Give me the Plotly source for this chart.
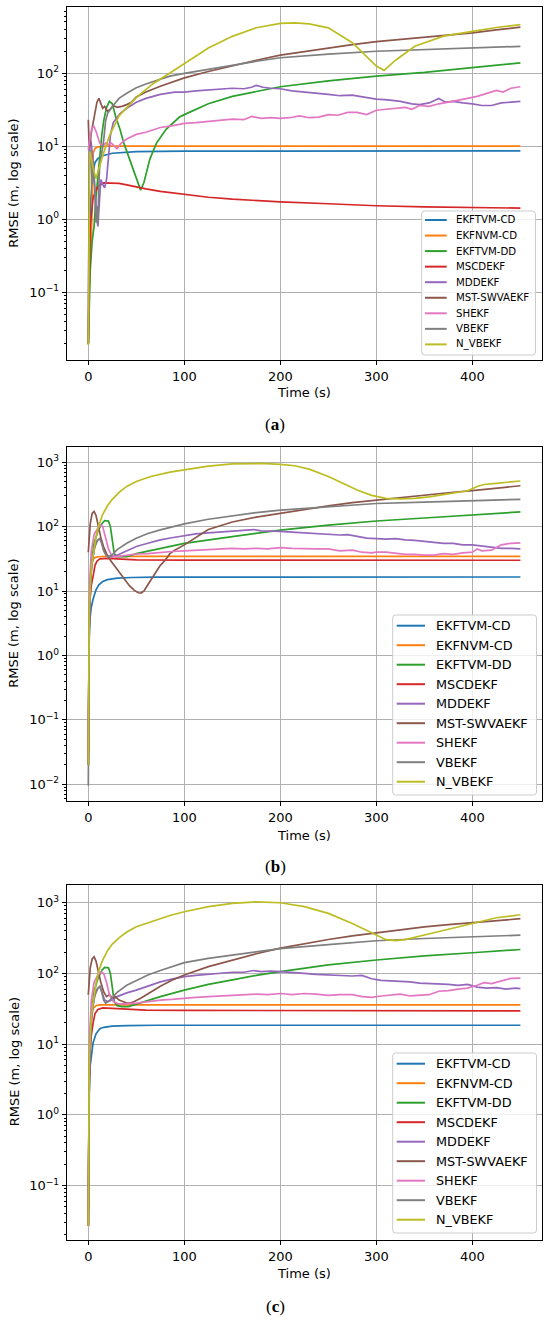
import math
import plotly.graph_objects as go

W, H = 550, 1323
NAMES = ["EKFTVM-CD", "EKFNVM-CD", "EKFTVM-DD", "MSCDEKF", "MDDEKF",
         "MST-SWVAEKF", "SHEKF", "VBEKF", "N_VBEKF"]
COLORS = ["#1f77b4", "#ff7f0e", "#2ca02c", "#d62728", "#9467bd",
          "#8c564b", "#e377c2", "#7f7f7f", "#bcbd22"]
X_TICKS = [0, 100, 200, 300, 400]

# ---------------- Panel (a) ----------------
a_t_ekftvm_cd = [0, 2, 5, 7, 10, 15, 25, 50, 100, 200, 450]
a_v_ekftvm_cd = [0.02, 1.5, 4.5, 6.0, 6.8, 7.4, 8.0, 8.4, 8.55, 8.6, 8.6]
a_t_ekfnvm_cd = [0, 1.5, 3, 4, 5, 7, 10, 20, 450]
a_v_ekfnvm_cd = [0.02, 0.35, 0.4, 2, 8, 9.3, 9.8, 10.0, 10.0]
a_t_ekftvm_dd = [0, 2, 4, 6, 8, 10, 12, 14, 16, 19, 22, 25, 29, 33, 37, 43, 50, 54.5, 58, 64, 71, 81, 95, 100,
                 125, 150, 175, 200, 250, 300, 350, 400, 450]
a_v_ekftvm_dd = [0.02, 0.2, 0.5, 0.8, 2, 4, 8, 14, 22, 34, 41, 38, 24, 17, 11, 6.6, 3.9, 2.5, 3.2, 6.6, 11, 17, 25, 27,
                 38, 48, 56, 65, 78, 91, 102, 118, 138]
a_t_mscdekf = [0, 2, 5, 10, 16, 25, 32, 40, 50, 60, 75, 100, 125, 150, 175, 200, 250, 300, 350, 400, 450]
a_v_mscdekf = [0.02, 0.8, 2.0, 2.8, 3.15, 3.15, 3.1, 2.95, 2.75, 2.6, 2.4, 2.18, 2.0, 1.88, 1.8, 1.73, 1.63, 1.53,
               1.48, 1.44, 1.42]
a_t_mddekf = [0, 1, 2, 3, 5, 7, 9, 10, 11, 13, 15, 17, 19, 21, 23, 26, 30, 33, 40, 50, 60, 75, 90, 100, 112, 125,
              137, 150, 162, 170, 175, 182, 190, 200, 212, 225, 237, 250, 262, 275, 287, 300, 312, 325, 337, 345,
              355, 365, 372, 380, 390, 400, 410, 420, 430, 440, 450]
a_v_mddekf = [0.02, 8, 13, 11, 6, 2, 1.0, 0.8, 1.2, 3.5, 3.0, 2.7, 3.5, 8, 14, 21, 25, 28, 33, 40, 45, 51, 55, 55, 57,
              59, 60, 62, 61, 64, 68, 64, 62, 61, 57, 55, 54, 51, 49, 50, 47, 44, 43, 41, 38, 37, 39, 45, 40, 41,
              39, 38, 36, 36, 39, 40, 41]
a_t_mst = [0, 0.5, 1, 3, 6, 9, 11, 13, 15, 17, 20, 23, 26, 30, 35, 40, 45, 50, 60, 75, 90, 100, 125, 150, 175, 200,
           225, 250, 275, 300, 325, 350, 375, 400, 425, 450]
a_v_mst = [23, 12, 9, 15, 25, 40, 45, 38, 33, 35, 30, 32, 36, 34, 35, 37, 40, 47, 55, 66, 78, 86, 105, 127, 150, 176,
           198, 220, 245, 270, 290, 305, 330, 355, 390, 425]
a_t_shekf = [0, 2, 4, 6, 8, 10, 12, 15, 18, 21, 24, 27, 30, 33, 36, 40, 45, 50, 60, 75, 87, 100, 112, 125, 137, 150,
             162, 170, 180, 190, 200, 210, 220, 230, 240, 250, 260, 270, 280, 290, 300, 310, 320, 330, 337, 345,
             355, 365, 375, 385, 395, 405, 415, 425, 432, 440, 450]
a_v_shekf = [9, 14, 18, 18.5, 16, 13, 11, 10, 11, 10.5, 11, 10, 9.2, 10.5, 11.5, 12.5, 13.5, 14.5, 15.5, 18, 19, 20.5,
             21, 22, 22.5, 23.5, 23, 25.5, 24, 24.5, 24, 24.5, 26, 24.5, 25, 27, 26.5, 29, 29, 27, 31, 32, 33, 34,
             32, 36, 35, 38, 40, 42, 45, 48, 53, 58, 55, 62, 65]
a_t_vbekf = [0, 1, 2, 3, 4, 5, 6, 7, 8, 9, 10, 11, 12, 14, 16, 18, 20, 25, 32, 40, 50, 60, 75, 85, 100, 125, 150,
             175, 200, 250, 300, 350, 400, 450]
a_v_vbekf = [0.02, 4, 9, 7, 3, 6, 4, 1.5, 0.9, 1.5, 0.9, 3, 6, 8, 12, 22, 28, 35, 45, 53, 63, 71, 83, 91, 99, 113,
             127, 145, 162, 182, 199, 210, 222, 232]
a_t_nvbekf = [0, 0.5, 1.5, 3, 5, 8, 10, 15, 22, 32, 50, 67, 85, 100, 125, 150, 175, 200, 215, 230, 250, 275, 290,
              300, 308, 320, 340, 370, 400, 425, 450]
a_v_nvbekf = [0.019, 1, 8.5, 7, 5, 3.6, 4.5, 7.4, 13.8, 26, 46, 71, 100, 135, 220, 318, 417, 478, 486, 470, 416,
              260, 165, 125, 109, 150, 233, 320, 373, 420, 460]

# ---------------- Panel (b) ----------------
b_t_ekftvm_cd = [0, 0.5, 1, 2, 3, 5, 8, 11, 15, 20, 30, 45, 70, 450]
b_v_ekftvm_cd = [0.02, 0.5, 2, 4, 5.5, 7.5, 10.4, 12.5, 14, 15, 15.8, 16.2, 16.4, 16.5]
b_t_ekfnvm_cd = [0, 0.5, 1, 2, 3, 5, 7, 10, 20, 450]
b_v_ekfnvm_cd = [0.02, 1, 5, 15, 25, 31, 33, 34, 34.5, 34.5]
b_t_ekftvm_dd = [0, 1, 3, 6, 10, 14, 17, 21, 23, 25, 27, 30, 40, 50, 75, 100, 150, 200, 250, 300, 350, 400, 450]
b_v_ekftvm_dd = [0.02, 5, 25, 55, 85, 110, 124, 122, 100, 55, 38, 34, 34, 38, 46, 55, 70, 88, 105, 122, 136, 152, 169]
b_t_mscdekf = [0, 0.5, 1, 2, 3, 5, 7, 9, 12, 20, 30, 50, 100, 450]
b_v_mscdekf = [0.02, 0.8, 3, 8, 12, 17, 25, 29, 31.5, 32, 31.5, 30.5, 30.2, 30.0]
b_t_mddekf = [0, 1, 3, 6, 9, 12, 14, 17, 20, 25, 30, 40, 50, 62, 75, 87, 100, 112, 125, 137, 150, 162, 172, 180,
              190, 200, 212, 225, 237, 250, 262, 270, 280, 290, 300, 310, 320, 330, 340, 350, 360, 370, 380, 390,
              400, 410, 420, 430, 440, 450]
b_v_mddekf = [0.02, 4, 20, 45, 60, 65, 55, 40, 35, 34, 36, 42, 49, 55, 62, 67, 73, 77, 80, 82, 84, 86, 90, 86, 84,
              84, 82, 80, 79, 76, 74, 75, 70, 66, 65, 64, 65, 62, 61, 59, 58, 55, 55, 52, 52, 50, 48, 46, 46, 45]
b_t_mst = [0, 1, 2, 4, 6, 8, 10, 13, 16, 19, 23, 28, 33, 38, 43, 48, 52, 55, 58, 62, 66, 70, 75, 80, 85, 90, 100,
           125, 150, 175, 200, 225, 250, 275, 300, 325, 350, 375, 400, 425, 450]
b_v_mst = [40, 70, 110, 160, 172, 150, 105, 68, 48, 38, 30, 24, 19, 15, 12, 10.2, 9.4, 9.3, 10, 12.5, 15.5, 19, 25,
           30, 38, 43, 52, 90, 118, 140, 160, 185, 210, 235, 258, 285, 310, 335, 362, 395, 430]
b_t_shekf = [0, 1, 3, 6, 10, 13, 15, 18, 21, 24, 28, 35, 50, 62, 75, 87, 100, 112, 125, 137, 150, 162, 175, 187,
             200, 212, 225, 237, 250, 262, 275, 285, 295, 300, 310, 320, 330, 340, 350, 360, 370, 380, 390, 400,
             405, 410, 420, 430, 440, 450]
b_v_shekf = [0.02, 10, 40, 75, 95, 105, 100, 70, 45, 36, 34, 35, 37.5, 38, 40, 41, 42, 43, 44, 44, 46, 45, 46, 45,
             47, 46, 45, 45, 45, 42, 43, 40, 39, 40, 40, 38, 37, 37, 36, 36, 38, 37, 39, 40, 45, 42, 43, 52, 55, 56]
b_t_vbekf = [0, 0.5, 1, 2, 4, 7, 10, 12, 14, 16, 19, 22, 26, 30, 40, 50, 62, 75, 100, 125, 150, 175, 200, 250, 300,
             350, 400, 450]
b_v_vbekf = [0.0095, 0.5, 3, 12, 30, 50, 62, 65, 55, 42, 35, 34, 38, 44, 55, 66, 78, 89, 110, 130, 147, 165, 180,
             205, 228, 240, 252, 265]
b_t_nvbekf = [0, 0.5, 1, 2, 3.5, 5, 8, 11, 15, 20, 25, 32, 40, 50, 65, 85, 100, 125, 150, 165, 180, 200, 215, 230,
              250, 265, 280, 295, 310, 325, 340, 355, 375, 395, 405, 412, 425, 450]
b_v_nvbekf = [0.02, 1, 5, 12, 25, 35, 69, 105, 155, 210, 265, 340, 420, 500, 600, 700, 760, 870, 940, 960, 955,
              925, 880, 780, 600, 470, 370, 305, 275, 270, 275, 290, 320, 360, 420, 450, 470, 510]

# ---------------- Panel (c) ----------------
c_t_ekftvm_cd = [0, 0.5, 1, 2, 3, 5, 8, 12, 16, 25, 40, 70, 450]
c_v_ekftvm_cd = [0.027, 0.5, 2, 5, 7, 10.5, 14, 16.5, 17.3, 18, 18.3, 18.5, 18.5]
c_t_ekfnvm_cd = [0, 0.5, 1, 2, 3, 5, 8, 12, 450]
c_v_ekfnvm_cd = [0.027, 1, 5, 15, 26, 32, 35, 36, 36]
c_t_ekftvm_dd = [0, 1, 3, 6, 10, 14, 17, 21, 23, 25, 27, 30, 35, 42, 50, 75, 100, 125, 150, 175, 200, 250, 300, 350,
                 400, 450]
c_v_ekftvm_dd = [0.027, 5, 25, 55, 85, 110, 122, 120, 100, 60, 40, 35, 34, 34, 37, 47, 58, 70, 81, 94, 106, 132,
                 155, 177, 196, 218]
c_t_mscdekf = [0, 0.5, 1, 2, 3, 5, 7, 10, 15, 25, 40, 60, 100, 450]
c_v_mscdekf = [0.027, 0.8, 3, 8, 13, 20, 27, 31, 32.5, 32, 31, 30.3, 30, 29.6]
c_t_mddekf = [0, 1, 3, 6, 9, 12, 14, 17, 20, 25, 30, 40, 50, 62, 75, 87, 100, 112, 125, 137, 150, 162, 172, 180,
              190, 200, 212, 225, 237, 250, 262, 275, 285, 295, 305, 315, 325, 335, 345, 355, 365, 375, 385, 395,
              405, 415, 425, 435, 445, 450]
c_v_mddekf = [0.027, 4, 20, 45, 60, 65, 55, 42, 40, 42, 47, 53, 58, 66, 76, 83, 90, 94, 98, 101, 104, 104, 110, 106,
              108, 106, 102, 100, 97, 95, 93, 92, 94, 84, 80, 79, 78, 76, 73, 72, 72, 70, 68, 70, 64, 62, 63, 60,
              62, 61]
c_t_mst = [0, 1, 2, 4, 6, 8, 10, 13, 16, 19, 22, 25, 28, 32, 36, 40, 44, 48, 55, 65, 75, 87, 100, 125, 150, 175,
           200, 225, 250, 275, 300, 325, 350, 375, 400, 425, 450]
c_v_mst = [50, 80, 120, 160, 172, 150, 110, 75, 55, 47, 50, 45, 47, 42, 40, 38, 38, 40, 45, 55, 66, 80, 95, 125, 155,
           190, 228, 265, 302, 340, 376, 415, 455, 490, 525, 560, 594]
c_t_shekf = [0, 1, 3, 6, 10, 13, 16, 19, 22, 26, 32, 40, 50, 62, 75, 87, 100, 112, 125, 137, 150, 162, 175, 187,
             200, 212, 225, 237, 250, 262, 275, 285, 295, 305, 315, 325, 335, 345, 355, 365, 375, 385, 395, 405,
             412, 420, 430, 440, 450]
c_v_shekf = [0.027, 10, 40, 75, 95, 105, 100, 75, 50, 40, 37, 37, 38, 40, 42, 43, 45, 46, 47, 48, 49, 49, 51, 50,
             52, 50, 52, 51, 49, 50, 50, 47, 46, 48, 50, 51, 48, 49, 50, 56, 57, 60, 62, 68, 74, 72, 78, 85, 86]
c_t_vbekf = [0, 0.5, 1, 2, 4, 7, 10, 12, 14, 16, 18, 21, 25, 30, 40, 50, 62, 75, 100, 125, 150, 175, 200, 250, 300,
             350, 400, 450]
c_v_vbekf = [0.027, 0.5, 3, 12, 30, 50, 62, 66, 55, 42, 38, 40, 46, 54, 68, 80, 95, 110, 142, 163, 182, 205, 225,
             255, 290, 312, 330, 348]
c_t_nvbekf = [0, 0.5, 1, 2, 3.5, 5, 8, 11, 15, 20, 25, 32, 40, 50, 70, 85, 100, 125, 150, 175, 200, 225, 250, 275,
              300, 310, 320, 330, 350, 375, 400, 425, 450]
c_v_nvbekf = [0.027, 1.2, 6, 13, 27, 38, 72, 110, 154, 210, 260, 318, 385, 458, 570, 660, 746, 880, 980, 1030, 1000,
              880, 706, 510, 350, 300, 292, 300, 350, 420, 510, 613, 676]

PANELS = [
    [(a_t_ekftvm_cd, a_v_ekftvm_cd), (a_t_ekfnvm_cd, a_v_ekfnvm_cd), (a_t_ekftvm_dd, a_v_ekftvm_dd),
     (a_t_mscdekf, a_v_mscdekf), (a_t_mddekf, a_v_mddekf), (a_t_mst, a_v_mst), (a_t_shekf, a_v_shekf),
     (a_t_vbekf, a_v_vbekf), (a_t_nvbekf, a_v_nvbekf)],
    [(b_t_ekftvm_cd, b_v_ekftvm_cd), (b_t_ekfnvm_cd, b_v_ekfnvm_cd), (b_t_ekftvm_dd, b_v_ekftvm_dd),
     (b_t_mscdekf, b_v_mscdekf), (b_t_mddekf, b_v_mddekf), (b_t_mst, b_v_mst), (b_t_shekf, b_v_shekf),
     (b_t_vbekf, b_v_vbekf), (b_t_nvbekf, b_v_nvbekf)],
    [(c_t_ekftvm_cd, c_v_ekftvm_cd), (c_t_ekfnvm_cd, c_v_ekfnvm_cd), (c_t_ekftvm_dd, c_v_ekftvm_dd),
     (c_t_mscdekf, c_v_mscdekf), (c_t_mddekf, c_v_mddekf), (c_t_mst, c_v_mst), (c_t_shekf, c_v_shekf),
     (c_t_vbekf, c_v_vbekf), (c_t_nvbekf, c_v_nvbekf)],
]
LABELS = ["a", "b", "c"]

# ---------------- layout geometry (pixels) ----------------
AX_LEFT, AX_RIGHT = 66.7, 542
AX_TOPS = [7.3, 446.7, 884.7]
AX_BOTS = [360.3, 801, 1240]
Y_RANGES = [(-1.93, 2.9), (-2.26, 3.24), (-1.77, 3.255)]
XLABEL_Y = [393, 835, 1273]
SUB_Y = [424, 866, 1306]
# legend boxes: left, right, top, bottom, handle x0, handle x1, text x, first row y, row step, font size
LEG_GEOM = [
    (421.7, 535.5, 211, 355, 425, 446.7, 455, 220, 15.55, 10.2),
    (392.7, 536.5, 615, 795, 396.7, 425, 435, 625.7, 19.5, 12.8),
    (392.7, 536.5, 1053, 1233, 396.7, 425, 435, 1063.7, 19.5, 12.8),
]

def px_x(p):
    return p / W

def px_y(p):
    return 1 - p / H

def rounded_rect(x0, x1, y0, y1, r):
    X0, X1 = px_x(x0), px_x(x1)
    Y0, Y1 = px_y(y1), px_y(y0)
    rx, ry = r / W, r / H
    return ("M %f,%f L %f,%f Q %f,%f %f,%f L %f,%f Q %f,%f %f,%f L %f,%f Q %f,%f %f,%f L %f,%f Q %f,%f %f,%f Z" % (
        X0 + rx, Y0, X1 - rx, Y0, X1, Y0, X1, Y0 + ry, X1, Y1 - ry, X1, Y1, X1 - rx, Y1,
        X0 + rx, Y1, X0, Y1, X0, Y1 - ry, X0, Y0 + ry, X0, Y0, X0 + rx, Y0))

fig = go.Figure()
sup = {-2: "−2", -1: "−1", 0: "0", 1: "1", 2: "2", 3: "3"}
FONT = "DejaVu Sans"

for i, panel in enumerate(PANELS):
    n = "" if i == 0 else str(i + 1)
    for k, (t, v) in enumerate(panel):
        fig.add_trace(go.Scatter(x=t, y=v, mode="lines", name=NAMES[k],
                                 line=dict(color=COLORS[k], width=1.7),
                                 xaxis="x" + n, yaxis="y" + n, showlegend=False))
    lo, hi = Y_RANGES[i]
    dec = [d for d in range(-3, 5) if lo <= d <= hi]
    minor_vals = [m * 10 ** d for d in range(-3, 4) for m in range(2, 10)
                  if lo <= d + math.log10(m) <= hi]
    fig.update_layout(**{
        "xaxis" + n: dict(domain=[px_x(AX_LEFT), px_x(AX_RIGHT)], anchor="y" + n,
                          range=[-22.5, 472.5], tickvals=X_TICKS, ticktext=[str(x) for x in X_TICKS],
                          showgrid=True, gridcolor="#b0b0b0", gridwidth=0.8,
                          showline=True, linecolor="black", linewidth=1, mirror=True,
                          ticks="outside", ticklen=4, tickwidth=0.8, tickcolor="black",
                          tickfont=dict(family=FONT, size=13, color="black"), zeroline=False),
        "yaxis" + n: dict(domain=[px_y(AX_BOTS[i]), px_y(AX_TOPS[i])], anchor="x" + n,
                          type="log", range=[lo, hi],
                          tickvals=[10 ** d for d in dec],
                          ticktext=["10<sup>%s</sup>" % sup[d] for d in dec],
                          showgrid=True, gridcolor="#b0b0b0", gridwidth=0.8,
                          showline=True, linecolor="black", linewidth=1, mirror=True,
                          ticks="outside", ticklen=4, tickwidth=0.8, tickcolor="black",
                          tickfont=dict(family=FONT, size=13, color="black"), zeroline=False,
                          minor=dict(tickmode="array", tickvals=minor_vals, ticks="outside",
                                     ticklen=2, tickwidth=0.6, tickcolor="black", showgrid=False)),
    })
    cx = px_x((AX_LEFT + AX_RIGHT) / 2)
    fig.add_annotation(x=cx, y=px_y(XLABEL_Y[i]), xref="paper", yref="paper", text="Time (s)",
                       showarrow=False, font=dict(family=FONT, size=13, color="black"),
                       xanchor="center", yanchor="middle")
    fig.add_annotation(x=px_x(14), y=px_y((AX_TOPS[i] + AX_BOTS[i]) / 2), xref="paper", yref="paper",
                       text="RMSE (m, log scale)", textangle=-90, showarrow=False,
                       font=dict(family=FONT, size=13, color="black"), xanchor="center", yanchor="middle")
    fig.add_annotation(x=0.5, y=px_y(SUB_Y[i]), xref="paper", yref="paper",
                       text="(<b>%s</b>)" % LABELS[i], showarrow=False,
                       font=dict(family="Liberation Serif", size=17, color="black"),
                       xanchor="center", yanchor="middle")

    # legend (matplotlib style) built from NAMES / COLORS
    L, R, T, B, hx0, hx1, tx, ry0, step, fs = LEG_GEOM[i]
    fig.add_shape(type="path", path=rounded_rect(L, R, T, B, 3), xref="paper", yref="paper",
                  fillcolor="rgba(255,255,255,0.8)", line=dict(color="#cccccc", width=1), layer="above")
    for k, name in enumerate(NAMES):
        yy = px_y(ry0 + k * step)
        fig.add_shape(type="line", x0=px_x(hx0), x1=px_x(hx1), y0=yy, y1=yy, xref="paper", yref="paper",
                      line=dict(color=COLORS[k], width=2), layer="above")
        fig.add_annotation(x=px_x(tx), y=yy, xref="paper", yref="paper", text=name, showarrow=False,
                           font=dict(family=FONT, size=fs, color="black"), xanchor="left",
                           yanchor="middle", xshift=-1)

fig.update_layout(width=W, height=H, margin=dict(l=0, r=0, t=0, b=0),
                  paper_bgcolor="white", plot_bgcolor="white", showlegend=False,
                  font=dict(family=FONT, color="black"))
fig.write_html("out.html", config={"displayModeBar": False},
               post_script="document.body.style.margin='0';")
